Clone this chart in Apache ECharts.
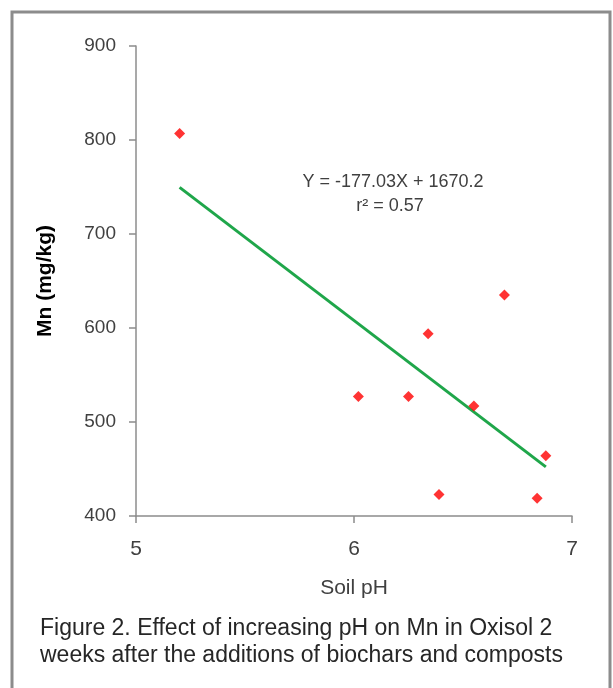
<!DOCTYPE html>
<html>
<head>
<meta charset="utf-8">
<script src="https://cdn.jsdelivr.net/npm/echarts@6/dist/echarts.min.js"></script>
<style>
html,body{margin:0;padding:0;background:#fff;}
#chart{width:613px;height:688px;}
</style>
</head>
<body>
<div id="chart"></div>
<script>
// Data
const soilPH = [5.20, 6.02, 6.25, 6.34, 6.39, 6.55, 6.69, 6.84, 6.88];
const mnValues = [807, 527, 527, 594, 423, 517, 635, 419, 464];
const trendSlope = -177.03;
const trendIntercept = 1670.2;
const equationText = 'Y = -177.03X + 1670.2';
const r2Text = 'r\u00B2 = 0.57';
const captionLines = [
  'Figure 2. Effect of increasing pH on Mn in Oxisol 2',
  'weeks after the additions of biochars and composts'
];
const xTicks = [5, 6, 7];
const yTicks = [400, 500, 600, 700, 800, 900];

const points = soilPH.map((x, i) => [x, mnValues[i]]);
const xMin = Math.min(...soilPH), xMax = Math.max(...soilPH);
const trend = [xMin, xMax].map(x => [x, trendSlope * x + trendIntercept]);

const FONT = '"Liberation Sans", Arial, sans-serif';
const chart = echarts.init(document.getElementById('chart'), null, {renderer: 'canvas'});
chart.setOption({
  backgroundColor: '#ffffff',
  animation: false,
  grid: {left: 136, right: 41, top: 46, bottom: 172, containLabel: false},
  xAxis: {
    type: 'value', min: xTicks[0], max: xTicks[xTicks.length - 1], interval: 1,
    name: 'Soil pH', nameLocation: 'middle', nameGap: 62,
    nameTextStyle: {fontFamily: FONT, fontSize: 21, color: '#404040'},
    axisLine: {lineStyle: {color: '#8c8c8c', width: 1.5}},
    axisTick: {show: true, inside: false, length: 7, lineStyle: {color: '#8c8c8c', width: 1.5}},
    axisLabel: {fontFamily: FONT, fontSize: 21, color: '#404040', margin: 23},
    splitLine: {show: false}
  },
  yAxis: {
    type: 'value', min: yTicks[0], max: yTicks[yTicks.length - 1], interval: 100,
    name: 'Mn (mg/kg)', nameLocation: 'middle', nameGap: 80, nameRotate: 90,
    nameTextStyle: {fontFamily: FONT, fontSize: 21, fontWeight: 'bold', color: '#000000'},
    axisLine: {show: true, lineStyle: {color: '#8c8c8c', width: 1.5}},
    axisTick: {show: true, inside: false, length: 7, lineStyle: {color: '#8c8c8c', width: 1.5}},
    axisLabel: {fontFamily: FONT, fontSize: 19, color: '#404040', margin: 20},
    splitLine: {show: false}
  },
  series: [
    {
      type: 'line', data: trend, showSymbol: false, symbol: 'none',
      lineStyle: {color: '#1fa64a', width: 3}, z: 2
    },
    {
      type: 'scatter', data: points, symbol: 'diamond', symbolSize: 11,
      itemStyle: {color: '#ff0000'}, z: 3
    }
  ],
  graphic: [
    {type: 'rect', shape: {x: 12, y: 12, width: 598, height: 720},
     style: {fill: 'none', stroke: '#8c8c8c', lineWidth: 3}, silent: true},
    {type: 'text', x: 393, y: 182,
     style: {text: equationText, fontFamily: FONT, fontSize: 18, fill: '#404040', textAlign: 'center', textVerticalAlign: 'middle'}},
    {type: 'text', x: 390, y: 206,
     style: {text: r2Text, fontFamily: FONT, fontSize: 18, fill: '#404040', textAlign: 'center', textVerticalAlign: 'middle'}},
    {type: 'text', x: 40, y: 629,
     style: {text: captionLines[0], fontFamily: FONT, fontSize: 23, fill: '#262626', textAlign: 'left', textVerticalAlign: 'middle'}},
    {type: 'text', x: 40, y: 656,
     style: {text: captionLines[1], fontFamily: FONT, fontSize: 23, fill: '#262626', textAlign: 'left', textVerticalAlign: 'middle'}}
  ]
});
</script>
</body>
</html>
